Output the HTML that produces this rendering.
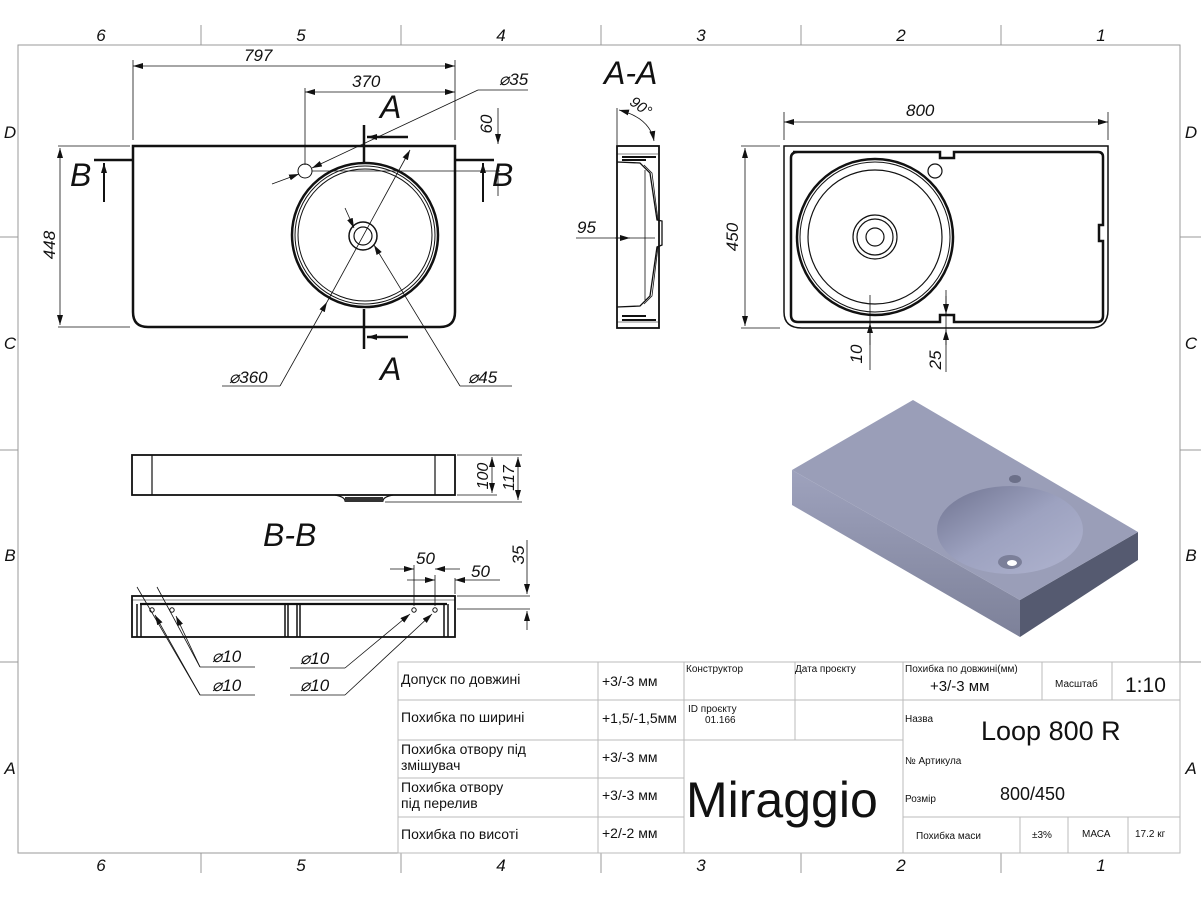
<!DOCTYPE html>
<html><head><meta charset="utf-8"><style>
html,body{margin:0;padding:0;background:#fff;}
svg{display:block;}
text{font-family:"Liberation Sans",sans-serif;fill:#111;}
.it{font-style:italic;}
.tb{font-family:"DejaVu Sans Condensed","Liberation Sans Narrow","Liberation Sans",sans-serif;}
</style></head><body>
<svg width="1201" height="901" viewBox="0 0 1201 901" xmlns="http://www.w3.org/2000/svg">
<defs>
<marker id="ar" viewBox="0 0 10 6" refX="10" refY="3" markerWidth="10" markerHeight="6" orient="auto-start-reverse" markerUnits="userSpaceOnUse"><path d="M0,0 L10,3 L0,6 Z" fill="#111"/></marker>
<linearGradient id="side" x1="0" y1="0" x2="0" y2="1"><stop offset="0" stop-color="#9ea2bd"/><stop offset="1" stop-color="#7d8199"/></linearGradient>
<linearGradient id="bas" x1="0" y1="0" x2="1" y2="1"><stop offset="0" stop-color="#6f7390"/><stop offset="0.5" stop-color="#9da2c0"/><stop offset="1" stop-color="#b0b4cf"/></linearGradient>
</defs>
<!-- frame -->
<g stroke="#999" stroke-width="1" fill="none">
<rect x="18" y="45" width="1162" height="808"/>
<line x1="201" y1="25" x2="201" y2="45"/><line x1="401" y1="25" x2="401" y2="45"/><line x1="601" y1="25" x2="601" y2="45"/><line x1="801" y1="25" x2="801" y2="45"/><line x1="1001" y1="25" x2="1001" y2="45"/>
<line x1="201" y1="853" x2="201" y2="873"/><line x1="401" y1="853" x2="401" y2="873"/><line x1="601" y1="853" x2="601" y2="873"/><line x1="801" y1="853" x2="801" y2="873"/><line x1="1001" y1="853" x2="1001" y2="873"/>
<line x1="0" y1="237" x2="18" y2="237"/><line x1="0" y1="450" x2="18" y2="450"/><line x1="0" y1="662" x2="18" y2="662"/>
<line x1="1180" y1="237" x2="1201" y2="237"/><line x1="1180" y1="450" x2="1201" y2="450"/><line x1="1180" y1="662" x2="1201" y2="662"/>
</g>
<g class="it" font-size="17" text-anchor="middle">
<text x="101" y="41">6</text><text x="301" y="41">5</text><text x="501" y="41">4</text><text x="701" y="41">3</text><text x="901" y="41">2</text><text x="1101" y="41">1</text>
<text x="101" y="871">6</text><text x="301" y="871">5</text><text x="501" y="871">4</text><text x="701" y="871">3</text><text x="901" y="871">2</text><text x="1101" y="871">1</text>
<text x="10" y="138">D</text><text x="10" y="349">C</text><text x="10" y="561">B</text><text x="10" y="774">A</text>
<text x="1191" y="138">D</text><text x="1191" y="349">C</text><text x="1191" y="561">B</text><text x="1191" y="774">A</text>
</g>

<!-- main top view -->
<g fill="none" stroke="#111">
<path d="M133,146 H455 V312 Q455,327 440,327 H148 Q133,327 133,312 Z" stroke-width="2.5"/>
<line x1="133" y1="160" x2="94" y2="160" stroke-width="2.5"/>
<line x1="455" y1="160" x2="494" y2="160" stroke-width="2.5"/>
<line x1="104" y1="163" x2="104" y2="202" stroke-width="2" marker-start="url(#ar)"/>
<line x1="483" y1="163" x2="483" y2="202" stroke-width="2" marker-start="url(#ar)"/>
<ellipse cx="365" cy="235" rx="73" ry="72" stroke-width="2.5"/>
<ellipse cx="365" cy="235" rx="70" ry="69" stroke-width="1"/>
<ellipse cx="365" cy="235" rx="67" ry="66" stroke-width="1"/>
<circle cx="363" cy="236" r="14" stroke-width="1.5"/>
<circle cx="363" cy="236" r="9" stroke-width="1.2"/>
<circle cx="305" cy="171" r="7" stroke-width="1"/>
<line x1="364" y1="125" x2="364" y2="163" stroke-width="2.5"/>
<line x1="364" y1="309" x2="364" y2="349" stroke-width="2.5"/>
<line x1="408" y1="137" x2="367" y2="137" stroke-width="2.5" marker-end="url(#ar)"/>
<line x1="408" y1="337" x2="367" y2="337" stroke-width="2.5" marker-end="url(#ar)"/>
<g stroke-width="0.8">
<line x1="133" y1="140" x2="133" y2="60"/><line x1="455" y1="140" x2="455" y2="60"/>
<line x1="133" y1="66" x2="455" y2="66" marker-start="url(#ar)" marker-end="url(#ar)"/>
<line x1="305" y1="165" x2="305" y2="88"/>
<line x1="305" y1="92" x2="455" y2="92" marker-start="url(#ar)" marker-end="url(#ar)"/>
<line x1="58" y1="146" x2="130" y2="146"/><line x1="58" y1="327" x2="130" y2="327"/>
<line x1="60" y1="148" x2="60" y2="325" marker-start="url(#ar)" marker-end="url(#ar)"/>
<line x1="312" y1="171" x2="500" y2="171"/>
<line x1="498" y1="108" x2="498" y2="144" marker-end="url(#ar)"/>
<line x1="498" y1="171" x2="498" y2="196"/>
<line x1="272" y1="184" x2="299" y2="174" marker-end="url(#ar)"/>
<line x1="478" y1="90" x2="312" y2="168" marker-end="url(#ar)"/>
<line x1="478" y1="90" x2="528" y2="90"/>
<line x1="280" y1="386" x2="327" y2="302" marker-end="url(#ar)"/>
<line x1="280" y1="386" x2="222" y2="386"/>
<line x1="327" y1="302" x2="410" y2="150" marker-end="url(#ar)"/>
<line x1="460" y1="386" x2="374" y2="245" marker-end="url(#ar)"/>
<line x1="460" y1="386" x2="512" y2="386"/>
<line x1="345" y1="208" x2="354" y2="228" marker-end="url(#ar)"/>
</g>
</g>
<g class="it" font-size="17">
<text x="244" y="61">797</text><text x="352" y="87">370</text>
<text x="499" y="85">⌀35</text>
<text x="229" y="383">⌀360</text><text x="468" y="383">⌀45</text>
<text x="55" y="245" transform="rotate(-90 55 245)" text-anchor="middle">448</text>
<text x="492" y="124" transform="rotate(-90 492 124)" text-anchor="middle">60</text>
</g>
<g class="it" font-size="32">
<text x="70" y="186">B</text><text x="492" y="186">B</text>
<text x="380" y="118">A</text><text x="380" y="380">A</text>
<text x="604" y="84">A-A</text>
<text x="263" y="546">B-B</text>
</g>

<!-- A-A section -->
<g fill="none" stroke="#111">
<rect x="617" y="146" width="42" height="182" stroke-width="1.8"/>
<path d="M617,154 H658 M617,322 H658" stroke-width="0.6"/>
<path d="M622,160 H646 M622,157 H656 M622,316 H646 M622,320 H656" stroke-width="2"/>
<path d="M617,162 L640,163 L650,173 L657,220 L662,221 L662,245 L657,247 L650,296 L640,306 L617,307" stroke-width="1.3"/>
<path d="M644,165 L652,173 L658,220 M644,304 L652,296 L658,247" stroke-width="0.8"/>
<line x1="645" y1="170" x2="645" y2="300" stroke-width="0.8"/>
<line x1="617" y1="145" x2="617" y2="108" stroke-width="0.8"/>
<path d="M619,110 Q650,118 654,141" stroke-width="0.8" marker-start="url(#ar)" marker-end="url(#ar)"/>
<line x1="576" y1="238" x2="655" y2="238" stroke-width="0.8"/>
<line x1="615" y1="238" x2="630" y2="238" stroke-width="0.8" marker-end="url(#ar)"/>
</g>
<g class="it" font-size="15"><text x="630" y="112" transform="rotate(35 642 106)">90°</text></g>
<g class="it" font-size="17"><text x="577" y="233">95</text></g>

<!-- right top view -->
<g fill="none" stroke="#111">
<path d="M784,146 H1108 V310 Q1108,328 1090,328 H802 Q784,328 784,312 Z" stroke-width="1.5"/>
<path d="M793,152 H940 V158 H954 V152 H1098 Q1103,152 1103,157 V225 H1099 V241 H1103 V316 Q1103,322 1097,322 H954 V315 H940 V322 H798 Q791,322 791,315 V158 Q791,152 798,152 Z" stroke-width="2.5"/>
<circle cx="875" cy="237" r="78" stroke-width="2.5"/>
<circle cx="875" cy="237" r="75" stroke-width="1"/>
<circle cx="875" cy="237" r="67" stroke-width="1.2"/>
<circle cx="875" cy="237" r="22" stroke-width="1.2"/>
<circle cx="875" cy="237" r="18" stroke-width="1.2"/>
<circle cx="875" cy="237" r="9" stroke-width="1.2"/>
<circle cx="935" cy="171" r="7" stroke-width="1.2"/>
<g stroke-width="0.8">
<line x1="784" y1="140" x2="784" y2="112"/><line x1="1108" y1="140" x2="1108" y2="112"/>
<line x1="784" y1="122" x2="1108" y2="122" marker-start="url(#ar)" marker-end="url(#ar)"/>
<line x1="741" y1="146" x2="780" y2="146"/><line x1="741" y1="328" x2="780" y2="328"/>
<line x1="745" y1="148" x2="745" y2="326" marker-start="url(#ar)" marker-end="url(#ar)"/>
<line x1="870" y1="295" x2="870" y2="370"/>
<line x1="870" y1="345" x2="870" y2="323" marker-end="url(#ar)"/>
<line x1="946" y1="290" x2="946" y2="372"/>
<line x1="946" y1="296" x2="946" y2="314" marker-end="url(#ar)"/>
<line x1="946" y1="345" x2="946" y2="330" marker-end="url(#ar)"/>
</g>
</g>
<g class="it" font-size="17">
<text x="906" y="116">800</text>
<text x="738" y="237" transform="rotate(-90 738 237)" text-anchor="middle">450</text>
<text x="862" y="354" transform="rotate(-90 862 354)" text-anchor="middle">10</text>
<text x="941" y="360" transform="rotate(-90 941 360)" text-anchor="middle">25</text>
</g>

<!-- side view -->
<g fill="none" stroke="#111">
<rect x="132" y="455" width="323" height="40" stroke-width="1.8"/>
<line x1="152" y1="455" x2="152" y2="495" stroke-width="1.2"/>
<line x1="435" y1="455" x2="435" y2="495" stroke-width="1.2"/>
<path d="M335,495 Q345,497 345,501 H383 Q383,497 393,495" stroke-width="1.2"/>
<rect x="345" y="497" width="38" height="5" fill="#333" stroke="none"/>
<g stroke-width="0.8">
<line x1="457" y1="455" x2="522" y2="455"/><line x1="457" y1="495" x2="497" y2="495"/><line x1="385" y1="502" x2="522" y2="502"/>
<line x1="492" y1="457" x2="492" y2="493" marker-start="url(#ar)" marker-end="url(#ar)"/>
<line x1="518" y1="457" x2="518" y2="500" marker-start="url(#ar)" marker-end="url(#ar)"/>
</g>
</g>
<g class="it" font-size="16">
<text x="488" y="476" transform="rotate(-90 488 476)" text-anchor="middle">100</text>
<text x="514" y="478" transform="rotate(-90 514 478)" text-anchor="middle">117</text>
</g>

<!-- B-B section -->
<g fill="none" stroke="#111">
<rect x="132" y="596" width="323" height="41" stroke-width="1.8"/>
<line x1="132" y1="600" x2="455" y2="600" stroke-width="0.6"/>
<path d="M140,604 H447" stroke-width="2.2"/>
<path d="M137,604 V637 M141,604 V637 M448,604 V637 M444,604 V637" stroke-width="1.5"/>
<path d="M285,604 V637 M288,604 V637 M297,604 V637 M300,604 V637" stroke-width="1.5"/>
<circle cx="152" cy="610" r="2.2" stroke-width="1"/><circle cx="172" cy="610" r="2.2" stroke-width="1"/>
<circle cx="414" cy="610" r="2.2" stroke-width="1"/><circle cx="435" cy="610" r="2.2" stroke-width="1"/>
<g stroke-width="0.8">
<line x1="414" y1="606" x2="414" y2="565"/><line x1="435" y1="606" x2="435" y2="575"/><line x1="455" y1="594" x2="455" y2="578"/>
<line x1="390" y1="569" x2="414" y2="569" marker-end="url(#ar)"/><line x1="460" y1="569" x2="435" y2="569" marker-end="url(#ar)"/>
<line x1="407" y1="580" x2="435" y2="580" marker-end="url(#ar)"/><line x1="500" y1="580" x2="455" y2="580" marker-end="url(#ar)"/>
<line x1="457" y1="596" x2="530" y2="596"/><line x1="457" y1="609" x2="530" y2="609"/>
<line x1="527" y1="540" x2="527" y2="594" marker-end="url(#ar)"/><line x1="527" y1="630" x2="527" y2="611" marker-end="url(#ar)"/>
<line x1="137" y1="587" x2="200" y2="695"/><line x1="200" y1="695" x2="255" y2="695"/>
<line x1="157" y1="587" x2="200" y2="667"/><line x1="200" y1="667" x2="255" y2="667"/>
<line x1="200" y1="695" x2="155" y2="615" marker-end="url(#ar)"/>
<line x1="200" y1="667" x2="176" y2="616" marker-end="url(#ar)"/>
<line x1="345" y1="668" x2="290" y2="668"/><line x1="345" y1="668" x2="410" y2="614" marker-end="url(#ar)"/>
<line x1="345" y1="695" x2="290" y2="695"/><line x1="345" y1="695" x2="432" y2="614" marker-end="url(#ar)"/>
</g>
</g>
<g class="it" font-size="17">
<text x="416" y="564">50</text><text x="471" y="577">50</text>
<text x="524" y="555" transform="rotate(-90 524 555)" text-anchor="middle">35</text>
<text x="212" y="662">⌀10</text><text x="212" y="691">⌀10</text>
<text x="300" y="664">⌀10</text><text x="300" y="691">⌀10</text>
</g>

<!-- 3D view -->
<g>
<polygon points="792,470 1020,600 1020,637 792,505" fill="url(#side)"/>
<polygon points="1020,600 1138,532 1138,560 1020,637" fill="#555a70"/>
<polygon points="792,470 913,400 1138,532 1020,600" fill="#9a9eb8"/>
<ellipse cx="1010" cy="530" rx="73" ry="44" fill="url(#bas)"/>
<ellipse cx="1010" cy="562" rx="12" ry="7" fill="#7b7f99"/>
<ellipse cx="1012" cy="563" rx="5" ry="3" fill="#fff"/>
<ellipse cx="1015" cy="479" rx="6" ry="4" fill="#6c7089"/>
</g>

<!-- title block -->
<g fill="none" stroke="#bbb" stroke-width="1">
<rect x="398" y="662" width="782" height="191"/>
<line x1="598" y1="662" x2="598" y2="853"/><line x1="684" y1="662" x2="684" y2="853"/>
<line x1="903" y1="662" x2="903" y2="853"/><line x1="795" y1="662" x2="795" y2="740"/>
<line x1="1042" y1="662" x2="1042" y2="700"/><line x1="1112" y1="662" x2="1112" y2="700"/>
<line x1="398" y1="700" x2="684" y2="700"/><line x1="398" y1="740" x2="684" y2="740"/>
<line x1="398" y1="778" x2="684" y2="778"/><line x1="398" y1="817" x2="684" y2="817"/>
<line x1="684" y1="700" x2="903" y2="700"/><line x1="684" y1="740" x2="903" y2="740"/>
<line x1="903" y1="700" x2="1180" y2="700"/><line x1="903" y1="817" x2="1180" y2="817"/>
<line x1="1020" y1="817" x2="1020" y2="853"/><line x1="1068" y1="817" x2="1068" y2="853"/><line x1="1128" y1="817" x2="1128" y2="853"/>
</g>
<g class="tb" font-size="14">
<text x="401" y="684">Допуск по довжині</text>
<text x="401" y="722">Похибка по ширині</text>
<text x="401" y="754">Похибка отвору під</text><text x="401" y="770">змішувач</text>
<text x="401" y="792">Похибка отвору</text><text x="401" y="808">під перелив</text>
<text x="401" y="839">Похибка по висоті</text>
<text x="602" y="686">+3/-3 мм</text>
<text x="602" y="723">+1,5/-1,5мм</text>
<text x="602" y="762">+3/-3 мм</text>
<text x="602" y="800">+3/-3 мм</text>
<text x="602" y="838">+2/-2 мм</text>
</g>
<g class="tb" font-size="10">
<text x="686" y="672">Конструктор</text><text x="795" y="672">Дата проєкту</text>
<text x="688" y="712">ID проєкту</text><text x="705" y="723">01.166</text>
<text x="905" y="672">Похибка по довжині(мм)</text>
<text x="1055" y="687">Масштаб</text>
<text x="905" y="722">Назва</text><text x="905" y="764">№ Артикула</text><text x="905" y="802">Розмір</text>
<text x="916" y="839">Похибка маси</text><text x="1032" y="838">±3%</text><text x="1082" y="837">МАСА</text><text x="1135" y="837">17.2 кг</text>
</g>
<g class="tb">
<text x="930" y="691" font-size="15">+3/-3 мм</text>
<text x="1125" y="692" font-size="21">1:10</text>
<text x="981" y="740" font-size="27">Loop 800 R</text>
<text x="1000" y="800" font-size="18">800/450</text>
<text x="686" y="817" font-size="50">Miraggio</text>
</g>
</svg>
</body></html>
